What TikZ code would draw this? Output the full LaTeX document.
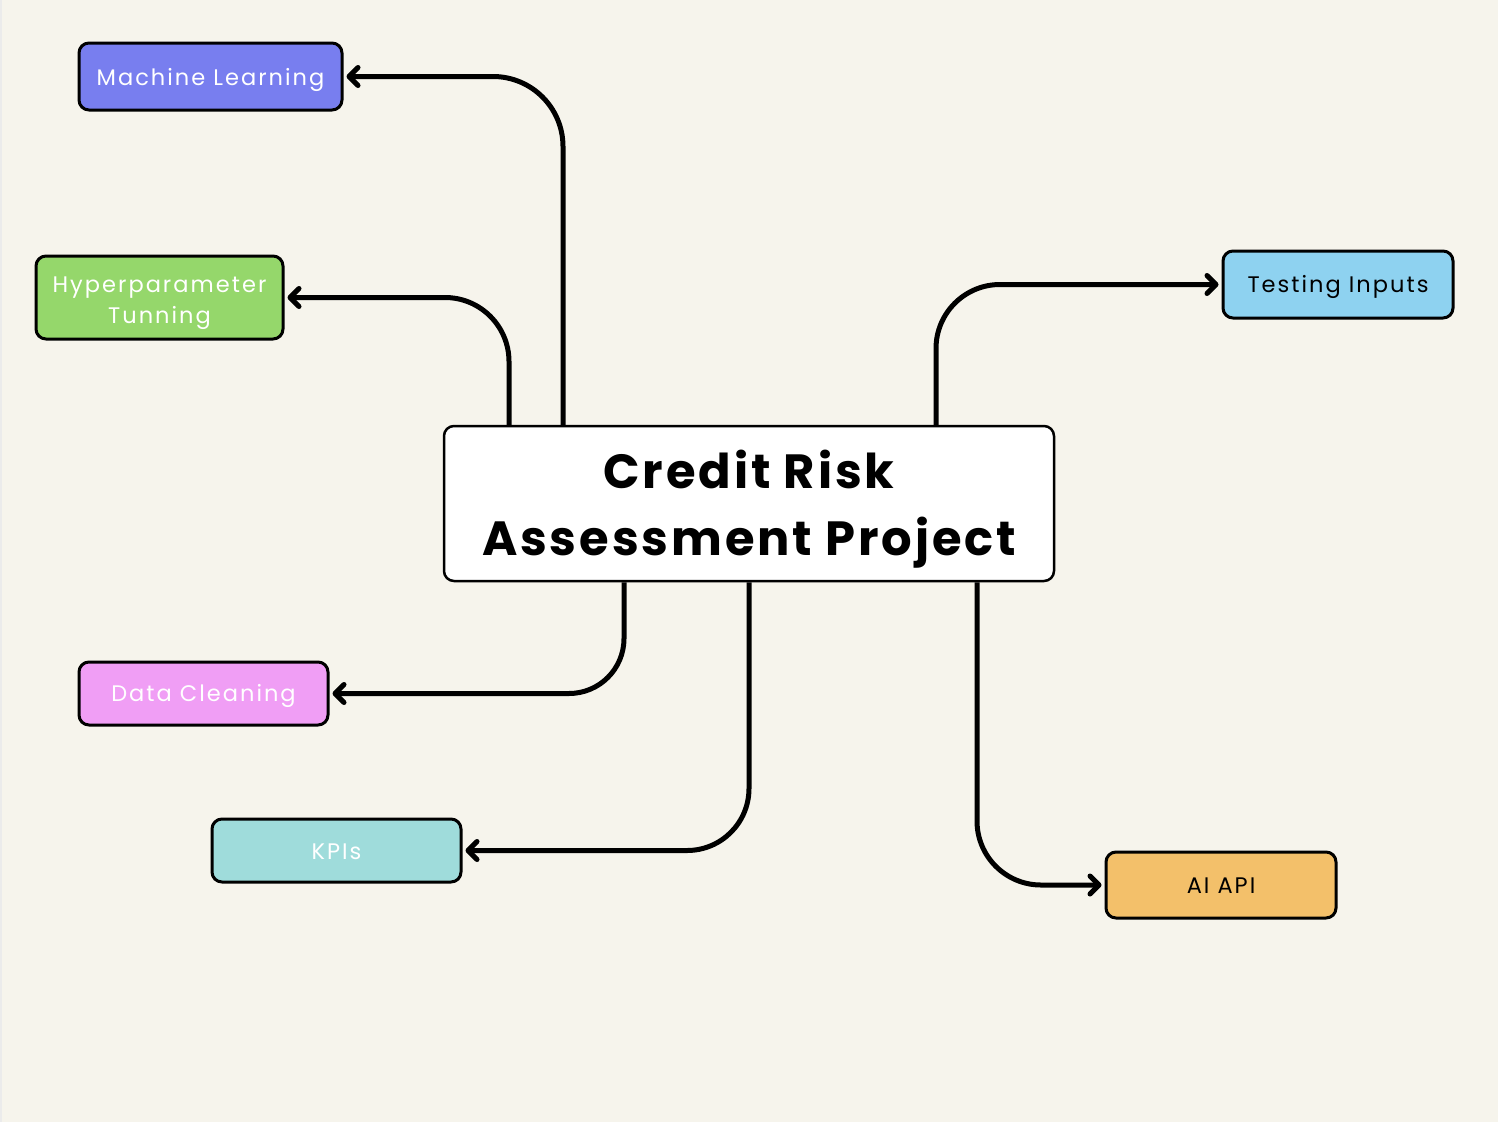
\documentclass[tikz,border=0pt]{standalone}
\usepackage{fontspec}
\setmainfont{Poppins}
\newfontfamily\lblfont[LetterSpace=9]{Poppins}
\newfontfamily\ttlfont[LetterSpace=6]{Poppins}
\usetikzlibrary{arrows.meta}
\definecolor{bgc}{HTML}{F6F4EC}
\definecolor{mlc}{HTML}{787EEF}
\definecolor{htc}{HTML}{95D76B}
\definecolor{dcc}{HTML}{F09EF5}
\definecolor{kpc}{HTML}{9FDCDB}
\definecolor{aic}{HTML}{F3C06A}
\definecolor{tic}{HTML}{8ED2F0}
\newcommand\boxtxt[2]{\raisebox{#1}[0pt][0pt]{\begin{tabular}[b]{@{}c@{}}#2\end{tabular}}}
\tikzset{
  box/.style={draw=black, line width=3pt, rounded corners=10pt, inner sep=0pt,
    align=center, font=\lblfont\fontsize{22.5}{31}\selectfont},
  conn/.style={line width=5pt, rounded corners=66pt,
    -{Straight Barb[length=9pt,width=18pt,line cap=round,line join=round]}},
}
\begin{document}
\begin{tikzpicture}[x=1pt,y=-1pt]
\fill[bgc] (0,0) rectangle (1498,1122);
\fill[black!8] (0,0) rectangle (2,1122);
\useasboundingbox (0,0) rectangle (1498,1122);
\node[box, fill=white, line width=2.5pt, minimum width=610pt, minimum height=155pt,
  font=\ttlfont\bfseries\fontsize{48}{67}\selectfont] (c) at (749,503.5)
  {\boxtxt{-51.5pt}{Credit Risk\\Assessment Project}};
\node[box, fill=mlc, text=white, minimum width=263pt, minimum height=67pt] (ml) at (210.5,76.5) {\boxtxt{-8.5pt}{Machine Learning}};
\node[box, fill=htc, text=white, minimum width=247pt, minimum height=83pt] (ht) at (159.5,297.5) {\boxtxt{-25.5pt}{Hyperparameter\\Tunning}};
\node[box, fill=dcc, text=white, minimum width=249pt, minimum height=63pt] (dc) at (203.5,693.5) {\boxtxt{-8pt}{Data Cleaning}};
\node[box, fill=kpc, text=white, minimum width=249pt, minimum height=63pt] (kp) at (336.5,850.5) {\boxtxt{-8.5pt}{KPIs}};
\node[box, fill=aic, text=black, minimum width=230pt, minimum height=66pt] (ai) at (1221,885) {\boxtxt{-8pt}{AI API}};
\node[box, fill=tic, text=black, minimum width=230pt, minimum height=67pt] (ti) at (1338,284.5) {\boxtxt{-7.5pt}{Testing Inputs}};
\draw[conn, rounded corners=70pt] ([xshift=-186pt]c.north) |- ([xshift=3pt]ml.east);
\draw[conn, rounded corners=64pt] ([xshift=-240pt]c.north) |- ([xshift=3pt]ht.east);
\draw[conn, rounded corners=64pt] ([xshift=187pt]c.north) |- ([xshift=-3pt]ti.west);
\draw[conn, rounded corners=55pt] ([xshift=-125pt]c.south) |- ([xshift=3pt]dc.east);
\draw[conn, rounded corners=62pt] (c.south) |- ([xshift=3pt]kp.east);
\draw[conn, rounded corners=64pt] ([xshift=228pt]c.south) |- ([xshift=-3pt]ai.west);
\end{tikzpicture}
\end{document}
